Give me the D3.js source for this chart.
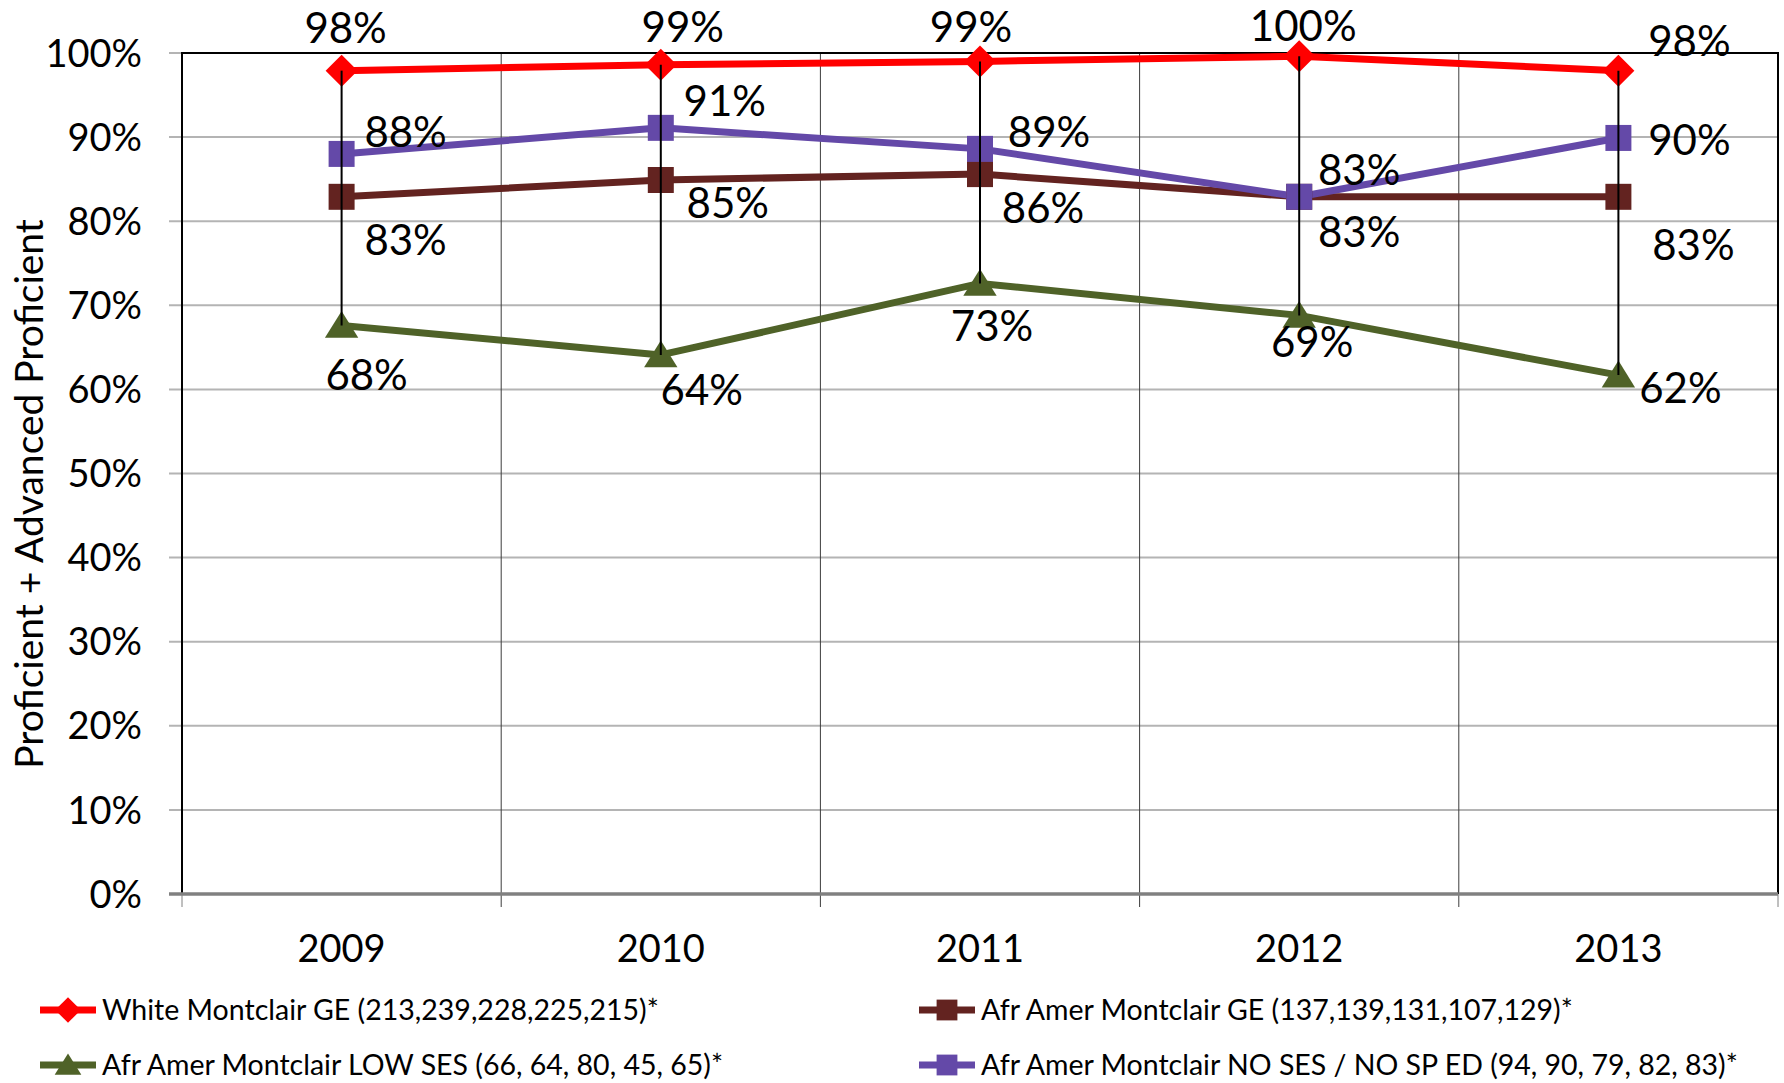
<!DOCTYPE html>
<html>
<head>
<meta charset="utf-8">
<script src="https://cdn.jsdelivr.net/npm/d3@7"></script>
<style>
  body { margin: 0; background: #fff; }
  text { font-family: Lato, "Open Sans", sans-serif; fill: #000; }
</style>
</head>
<body>
<div id="chartDiv" style="width:1784px;height:1083px;"></div>
<script>
var years = ['2009', '2010', '2011', '2012', '2013'];
var whiteGE = [0.979, 0.986, 0.990, 0.996, 0.979];
var afrAmerGE = [0.829, 0.849, 0.856, 0.829, 0.829];
var afrAmerLowSES = [0.676, 0.641, 0.726, 0.688, 0.617];
var afrAmerNoSES = [0.880, 0.911, 0.886, 0.829, 0.899];
var yTicks = [0, 0.1, 0.2, 0.3, 0.4, 0.5, 0.6, 0.7, 0.8, 0.9, 1.0];
var seriesNames = [
  'White Montclair GE (213,239,228,225,215)*',
  'Afr Amer Montclair GE (137,139,131,107,129)*',
  'Afr Amer Montclair LOW SES (66, 64, 80, 45, 65)*',
  'Afr Amer Montclair NO SES / NO SP ED (94, 90, 79, 82, 83)*'
];
var yTitle = 'Proficient + Advanced Proficient';

// label nudges (dx, dy) from each point, as in the original
var labelOffsets = [
  [[4, -43], [22, -38], [-9, -35], [4, -30], [71, -30]],
  [[64, 43], [67, 23], [63, 34], [60, 35], [75, 48]],
  [[25, 49], [41, 35], [12, 42], [13, 26], [62, 13]],
  [[64, -22], [64, -27], [69, -17], [60, -27], [71, 2]]
];

var series = [
  { name: seriesNames[0], values: whiteGE, color: '#ff0000', marker: 'diamond' },
  { name: seriesNames[1], values: afrAmerGE, color: '#632320', marker: 'square' },
  { name: seriesNames[2], values: afrAmerLowSES, color: '#4f6228', marker: 'triangle' },
  { name: seriesNames[3], values: afrAmerNoSES, color: '#6449a8', marker: 'square' }
];

var width = 1784, height = 1083;
var plotLeft = 182, plotRight = 1778, plotTop = 53, plotBottom = 894;

var svg = d3.select('#chartDiv').append('svg')
  .attr('width', width)
  .attr('height', height);

svg.append('rect').attr('width', width).attr('height', height).attr('fill', 'white');

var x = d3.scaleBand().domain(years).range([plotLeft, plotRight]);
var y = d3.scaleLinear().domain([0, 1]).range([plotBottom, plotTop]);
var cx = function(d) { return x(d) + x.bandwidth() / 2; };
var pct = d3.format('.0%');

// horizontal grid + left ticks
svg.append('g').selectAll('line')
  .data(yTicks.filter(function(d) { return d > 0; }))
  .enter().append('line')
    .attr('x1', plotLeft - 13).attr('x2', plotRight)
    .attr('y1', function(d) { return y(d); })
    .attr('y2', function(d) { return y(d); })
    .attr('stroke', '#b4b4b4').attr('stroke-width', 2);

// vertical grid at category edges, run a bit below axis as ticks
var edges = years.map(function(d) { return x(d); }).concat([plotRight]);
svg.append('g').selectAll('line')
  .data(edges.slice(1, -1))
  .enter().append('line')
    .attr('x1', function(d) { return d; }).attr('x2', function(d) { return d; })
    .attr('y1', plotTop).attr('y2', plotBottom + 13)
    .attr('stroke', '#3c3c3c').attr('stroke-width', 1);
svg.append('g').selectAll('line')
  .data([edges[0], edges[edges.length - 1]])
  .enter().append('line')
    .attr('x1', function(d) { return d; }).attr('x2', function(d) { return d; })
    .attr('y1', plotBottom).attr('y2', plotBottom + 13)
    .attr('stroke', '#808080').attr('stroke-width', 1);

// plot border
svg.append('path')
  .attr('d', 'M' + plotLeft + ',' + plotBottom + 'V' + plotTop + 'H' + plotRight + 'V' + plotBottom)
  .attr('fill', 'none').attr('stroke', '#000').attr('stroke-width', 2);
svg.append('line')
  .attr('x1', plotLeft - 13).attr('x2', plotRight)
  .attr('y1', plotBottom).attr('y2', plotBottom)
  .attr('stroke', '#808080').attr('stroke-width', 3.5);

// y tick labels
svg.append('g').selectAll('text')
  .data(yTicks)
  .enter().append('text')
    .attr('x', 142)
    .attr('y', function(d) { return y(d); })
    .attr('dy', '0.36em')
    .attr('text-anchor', 'end')
    .style('font-size', '38px')
    .text(pct);

// x labels
svg.append('g').selectAll('text')
  .data(years)
  .enter().append('text')
    .attr('x', cx)
    .attr('y', 948)
    .attr('dy', '0.36em')
    .attr('text-anchor', 'middle')
    .style('font-size', '38px')
    .text(function(d) { return d; });

// y title
svg.append('text')
  .attr('transform', 'translate(29,494) rotate(-90)')
  .attr('dy', '0.36em')
  .attr('text-anchor', 'middle')
  .style('font-size', '39px')
  .text(yTitle);

var symbolFor = {
  diamond: function(sz) { return 'M0,' + (-sz) + 'L' + sz + ',0L0,' + sz + 'L' + (-sz) + ',0Z'; },
  square: function(sz) { return 'M' + (-sz) + ',' + (-sz) + 'h' + (2 * sz) + 'v' + (2 * sz) + 'h' + (-2 * sz) + 'Z'; },
  triangle: function(sz) { return 'M0,' + (-sz) + 'L' + (sz * 1.15) + ',' + (sz * 0.85) + 'L' + (-sz * 1.15) + ',' + (sz * 0.85) + 'Z'; }
};
var markerSize = { diamond: 16, square: 13, triangle: 14.5 };

var line = d3.line()
  .x(function(d, i) { return cx(years[i]); })
  .y(function(d) { return y(d); });

series.forEach(function(s) {
  svg.append('path')
    .attr('d', line(s.values))
    .attr('fill', 'none')
    .attr('stroke', s.color)
    .attr('stroke-width', 7)
    .attr('stroke-linejoin', 'round');
});

series.forEach(function(s) {
  svg.append('g').selectAll('path')
    .data(s.values)
    .enter().append('path')
      .attr('transform', function(d, i) { return 'translate(' + cx(years[i]) + ',' + y(d) + ')'; })
      .attr('d', symbolFor[s.marker](markerSize[s.marker]))
      .attr('fill', s.color);
});

// high-low lines, drawn over markers as in the original
svg.append('g').selectAll('line')
  .data(years)
  .enter().append('line')
    .attr('x1', cx).attr('x2', cx)
    .attr('y1', function(d, i) { return y(d3.max(series, function(s) { return s.values[i]; })); })
    .attr('y2', function(d, i) { return y(d3.min(series, function(s) { return s.values[i]; })); })
    .attr('stroke', '#000').attr('stroke-width', 2);

// data labels
series.forEach(function(s, si) {
  svg.append('g').selectAll('text')
    .data(s.values)
    .enter().append('text')
      .attr('x', function(d, i) { return cx(years[i]) + labelOffsets[si][i][0]; })
      .attr('y', function(d, i) { return y(d) + labelOffsets[si][i][1]; })
      .attr('dy', '0.36em')
      .attr('text-anchor', 'middle')
      .style('font-size', '42px')
      .text(pct);
});

// legend
var legendPos = [[40, 1010], [919, 1010], [40, 1065], [919, 1065]];
series.forEach(function(s, i) {
  var g = svg.append('g').attr('transform', 'translate(' + legendPos[i][0] + ',' + legendPos[i][1] + ')');
  g.append('line')
    .attr('x1', 0).attr('x2', 56)
    .attr('stroke', s.color).attr('stroke-width', 7);
  g.append('path')
    .attr('transform', 'translate(28,0)')
    .attr('d', symbolFor[s.marker](markerSize[s.marker] * 0.8))
    .attr('fill', s.color);
  g.append('text')
    .attr('x', 62)
    .attr('dy', '0.36em')
    .style('font-size', '28.5px')
    .text(s.name);
});
</script>
</body>
</html>
